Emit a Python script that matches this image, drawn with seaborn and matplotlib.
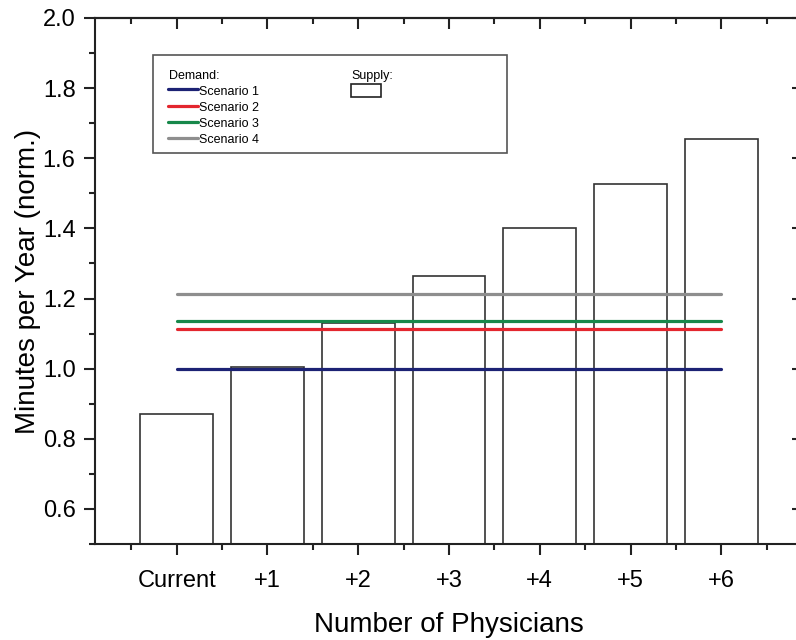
import numpy as np
import pandas as pd
import matplotlib
matplotlib.use("Agg")
import matplotlib.pyplot as plt
from matplotlib.ticker import MultipleLocator, FixedLocator, FormatStrFormatter
from matplotlib.lines import Line2D
from matplotlib.patches import Patch, Rectangle
import seaborn as sns

# ---- data ----
categories = ["Current", "+1", "+2", "+3", "+4", "+5", "+6"]
supply = [0.871, 1.006, 1.131, 1.264, 1.400, 1.528, 1.655]
scenarios = ["Scenario 1", "Scenario 2", "Scenario 3", "Scenario 4"]
demand = [1.000, 1.114, 1.135, 1.214]
scenario_colors = ["#1c2274", "#e3262e", "#17884a", "#8e8e8e"]

sns.set_theme(style="white")
plt.rcParams["font.family"] = ["Liberation Sans", "DejaVu Sans"]
plt.rcParams["text.color"] = "black"
plt.rcParams["axes.labelcolor"] = "black"

fig = plt.figure(figsize=(7.96, 6.40), dpi=100)
ax = fig.add_axes([95 / 796, 1 - 544 / 640, 708 / 796, 526 / 640])

# bars (supply)
sns.barplot(x=categories, y=supply, color="white", edgecolor="#333333",
            linewidth=1.2, width=0.8, saturation=1, ax=ax, zorder=1)

# demand lines spanning first to last category
first, last = 0, len(categories) - 1
df = pd.DataFrame({
    "scenario": np.repeat(scenarios, 2),
    "pos": [first, last] * len(scenarios),
    "value": np.repeat(demand, 2),
})
sns.lineplot(data=df, x="pos", y="value", hue="scenario", hue_order=scenarios,
             palette=scenario_colors, linewidth=2.3, legend=False, ax=ax,
             zorder=3)

ax.set_xlim(-0.9, 6.9)
ax.set_ylim(0.5, 2.0)

xpos = np.arange(len(categories))
ax.xaxis.set_major_locator(FixedLocator(xpos))
ax.set_xticklabels(categories)
ax.xaxis.set_minor_locator(FixedLocator(np.arange(len(categories) + 1) - 0.5))
ax.yaxis.set_major_locator(MultipleLocator(0.2))
ax.yaxis.set_minor_locator(MultipleLocator(0.1))
ax.yaxis.set_major_formatter(FormatStrFormatter("%.1f"))

for s in ["left", "bottom", "top", "right"]:
    ax.spines[s].set_visible(True)
    ax.spines[s].set_color("#222222")
    ax.spines[s].set_linewidth(1.5)

ax.tick_params(axis="both", which="major", direction="out", length=8,
               width=1.5, color="#222222", labelsize=17, labelcolor="black")
ax.tick_params(axis="both", which="minor", direction="out", length=4.5,
               width=1.5, color="#222222")
ax.tick_params(axis="x", which="both", bottom=True, top=False)
ax.tick_params(axis="x", which="major", pad=11)
ax.tick_params(axis="y", which="both", left=True, right=False)
ax.tick_params(axis="y", which="major", pad=6)

# inward ticks on top and right
secx = ax.secondary_xaxis("top")
secx.xaxis.set_major_locator(FixedLocator(xpos))
secx.xaxis.set_minor_locator(FixedLocator(np.arange(len(categories) + 1) - 0.5))
secx.tick_params(which="major", direction="in", length=8, width=1.5,
                 color="#222222", labeltop=False)
secx.tick_params(which="minor", direction="in", length=4.5, width=1.5,
                 color="#222222")
secx.spines["top"].set_linewidth(1.5)
secx.spines["top"].set_color("#222222")

secy = ax.secondary_yaxis("right")
secy.yaxis.set_major_locator(MultipleLocator(0.2))
secy.yaxis.set_minor_locator(MultipleLocator(0.1))
secy.tick_params(which="major", direction="in", length=8, width=1.5,
                 color="#222222", labelright=False)
secy.tick_params(which="minor", direction="in", length=4.5, width=1.5,
                 color="#222222")

ax.set_xlabel("Number of Physicians", fontsize=20, labelpad=14)
ax.set_ylabel("Minutes per Year (norm.)", fontsize=20, labelpad=1)

# legend box
ax.add_patch(Rectangle((58 / 708, 391 / 526), 354 / 708, 98 / 526,
                       transform=ax.transAxes, facecolor="white",
                       edgecolor="#555555", linewidth=1.2, zorder=4))

blank = Line2D([], [], alpha=0)
handles = [blank] + [Line2D([], [], color=c, lw=2.3) for c in scenario_colors] + \
          [blank, Patch(facecolor="white", edgecolor="#222222", linewidth=1.2),
           blank, blank, blank]
labels = ["Demand:"] + scenarios + ["Supply:", "", "", "", ""]
leg = ax.legend(handles, labels, ncol=2, loc="upper left",
                bbox_to_anchor=(73 / 708, (544 - 68) / 526),
                frameon=False, fontsize=9, borderpad=0, borderaxespad=0,
                handlelength=2.4, handleheight=1.2, handletextpad=0.1,
                labelspacing=0.2, columnspacing=7.3)
leg.set_zorder(5)
for vpack in leg._legend_handle_box.get_children():
    for hpack in vpack.get_children()[:1]:
        hpack.get_children()[0].set_width(0)

fig.savefig("out.png", dpi=100)
